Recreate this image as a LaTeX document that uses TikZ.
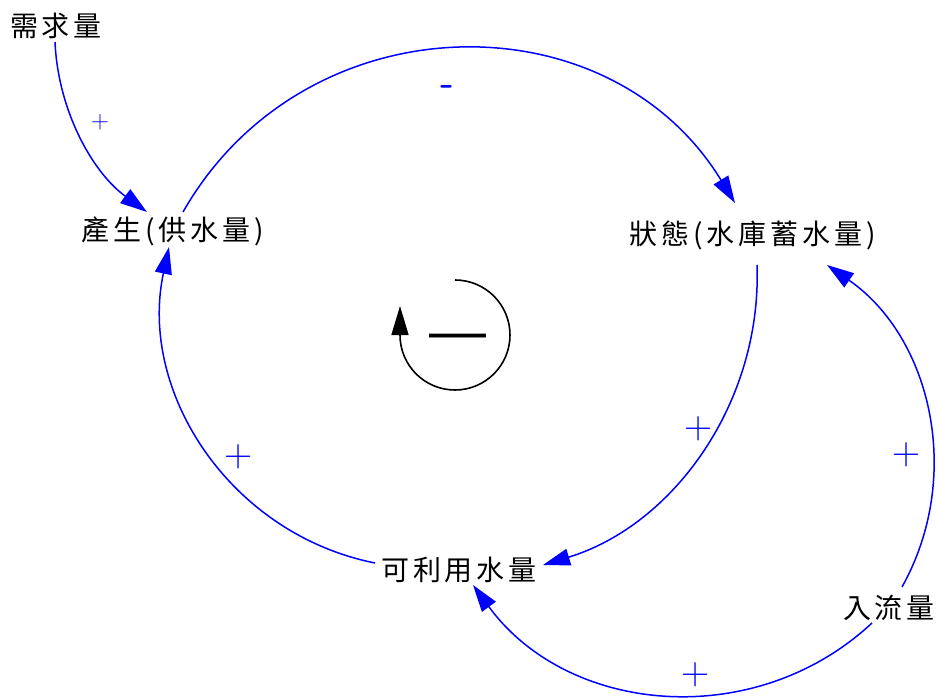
\documentclass[tikz,border=0pt]{standalone}
\usepackage{fontspec}
\usetikzlibrary{arrows.meta}
\newfontfamily\cjk[LetterSpace=14]{Noto Sans CJK TC}
\newfontfamily\dashfont{Liberation Sans}
\definecolor{linkblue}{RGB}{0,0,255}
\tikzset{
  var/.style={inner sep=0pt, font=\cjk\fontsize{28}{32}\selectfont, text=black},
  link/.style={draw=linkblue, line width=1.5pt, -{Triangle[length=27pt,width=17pt]}},
  pol/.style={inner sep=0pt, text=linkblue, font=\fontsize{39}{40}\selectfont},
  smallpol/.style={inner sep=0pt, text=linkblue, font=\fontsize{25}{26}\selectfont},
  loopline/.style={draw=black, line width=1.6pt, -{Triangle[length=29pt,width=17pt]}}
}
\begin{document}
\begin{tikzpicture}[x=1pt,y=-1pt]
\useasboundingbox[fill=white] (0,0) rectangle (938,698);
% variables
\node[var] (need)   at (56,26)    {需求量};
\node[var] (prod)   at (172.5,231.5) {產生(供水量)};
\node[var] (state)  at (752.5,235) {狀態(水庫蓄水量)};
\node[var] (avail)  at (459,569.5) {可利用水量};
\node[var] (inflow) at (889,607.5) {入流量};
% links
\draw[link] ([shift={(-1,16)}]need.center) .. controls +(3,68) and +(-55,-40) .. ([shift={(-25.5,-19.5)}]prod.center);
\draw[link] ([shift={(10.5,-19.5)}]prod.center) .. controls +(121,-212) and +(-127,-208) .. ([shift={(-17.5,-32)}]state.center);
\draw[link] ([shift={(4.5,30)}]state.center) .. controls +(5,137) and +(131,-40) .. ([shift={(84,-4.5)}]avail.center);
\draw[link] ([shift={(-84,-6.5)}]avail.center) .. controls +(-145,-29) and +(-31,145) .. ([shift={(-3.5,15.5)}]prod.center);
\draw[link] ([shift={(13,-20.5)}]inflow.center) .. controls +(62,-111) and +(104,72) .. ([shift={(74.5,30)}]state.center);
\draw[link] ([shift={(-17,15.5)}]inflow.center) .. controls +(-117,109) and +(95,130) .. ([shift={(14,15.5)}]avail.center);
% polarities
\node[smallpol] (p1) at (100,122) {+};
\node[inner sep=0pt, text=linkblue, font=\sffamily\bfseries\fontsize{38}{38}\selectfont] (p2) at (447,90) {-};
\node[pol] (p3) at (699,429) {+};
\node[pol] (p4) at (239,457) {+};
\node[pol] (p5) at (907,455) {+};
\node[pol] (p6) at (696,675) {+};
% loop symbol
\coordinate (looptop) at (455,280);
\draw[loopline] (looptop) arc[start angle=270, end angle=540, radius=55] -- ++(0,-29);
\node[inner sep=0pt, anchor=base, font=\dashfont\fontsize{57}{57}\selectfont] (loopsign) at (457.5,350) {—};
\end{tikzpicture}
\end{document}
